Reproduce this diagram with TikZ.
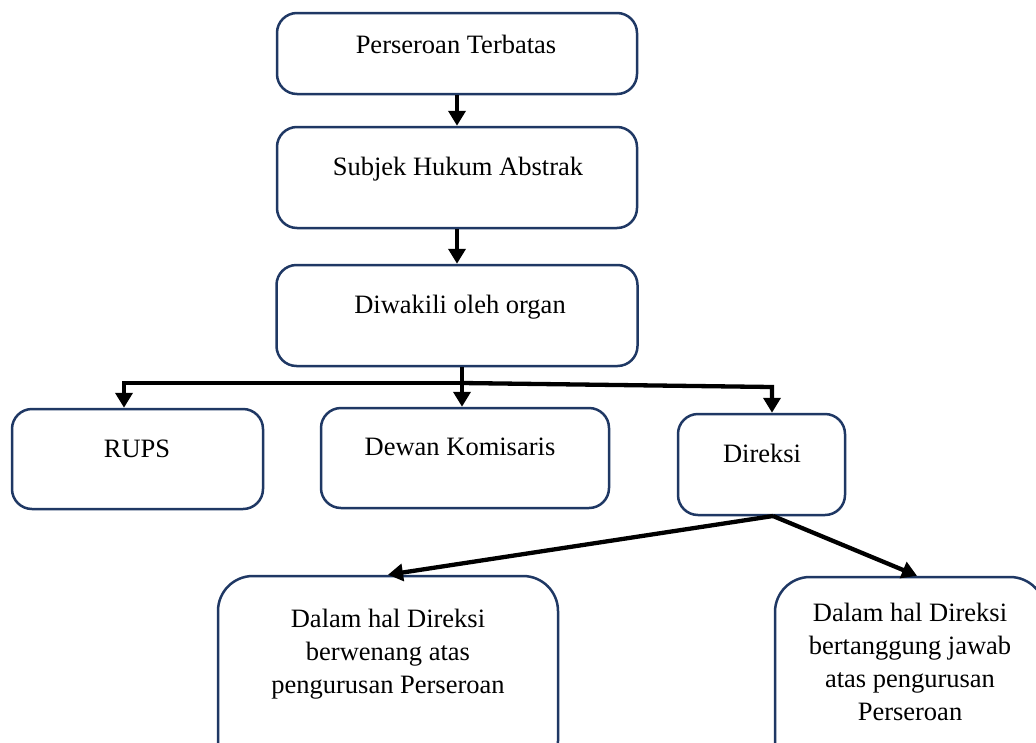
\documentclass[tikz,border=0pt]{standalone}
\usepackage{fontspec}
\setmainfont{Liberation Serif}
\usetikzlibrary{arrows.meta}
\definecolor{boxline}{RGB}{31,56,100}
\begin{document}
\begin{tikzpicture}[x=1pt,y=-1pt,
  orgbox/.style={draw=boxline, line width=2.5pt, rounded corners=20pt, fill=white, inner sep=0pt},
  bigbox/.style={orgbox, rounded corners=35pt},
  lbl/.style={font=\fontsize{26.5}{33}\selectfont, inner sep=0pt, anchor=base, text=black},
  mlbl/.style={font=\fontsize{26.5}{33}\selectfont, inner sep=0pt, anchor=north, align=center, text=black},
  arr/.style={draw=black, line width=4.3pt, -{Triangle[width=17pt,length=15pt]}}]
\clip (0,0) rectangle (1036,742);
\fill[white] (0,0) rectangle (1036,742);

% boxes of the chart
\node[orgbox, minimum width=360pt, minimum height=81pt]  (pt)   at (457,53.5)  {};
\node[orgbox, minimum width=360pt, minimum height=101pt] (shk)  at (457,177.5) {};
\node[orgbox, minimum width=361pt, minimum height=101pt] (dwk)  at (457,315.5) {};
\node[orgbox, minimum width=251pt, minimum height=100pt] (rups) at (137.5,459) {};
\node[orgbox, minimum width=288pt, minimum height=100pt] (dk)   at (465,458)   {};
\node[orgbox, minimum width=167pt, minimum height=101pt] (dir)  at (761.5,464.5) {};
\node[bigbox, minimum width=340pt, minimum height=200pt] (dl)   at (388,676)   {};
\node[bigbox, minimum width=270pt, minimum height=200pt] (dr)   at (910,677)   {};

% texts
\node[lbl] (tpt)   at (456,53)  {Perseroan Terbatas};
\node[lbl] (tshk)  at (458,175) {Subjek Hukum Abstrak};
\node[lbl] (tdwk)  at (460,313) {Diwakili oleh organ};
\node[lbl] (trups) at (137,457) {RUPS};
\node[lbl] (tdk)   at (460,455) {Dewan Komisaris};
\node[lbl] (tdir)  at (762,462) {Direksi};
\node[mlbl] (tdl) at (388,609) {Dalam hal Direksi\\berwenang atas\\pengurusan Perseroan};
\node[mlbl] (tdr) at (910,603) {Dalam hal Direksi\\bertanggung jawab\\atas pengurusan\\Perseroan};

% junctions of the branching connector
\coordinate (j)  at (462,383);
\coordinate (jl) at (124,383);
\coordinate (jr) at (772,387);
\coordinate (ds) at (773,516);

% connectors
\draw[arr] (pt.south) -- (shk.north);
\draw[arr] (shk.south) -- (dwk.north);
\draw[arr] (dwk.south -| j) -- (dk.north -| j);
\draw[arr] (j) -- (jl) -- (rups.north -| jl);
\draw[arr] (j) -- (jr) -- (dir.north -| jr);
\draw[arr] (ds) -- (dl.north);
\draw[arr] (ds) -- ([xshift=7pt]dr.north);
\end{tikzpicture}
\end{document}
